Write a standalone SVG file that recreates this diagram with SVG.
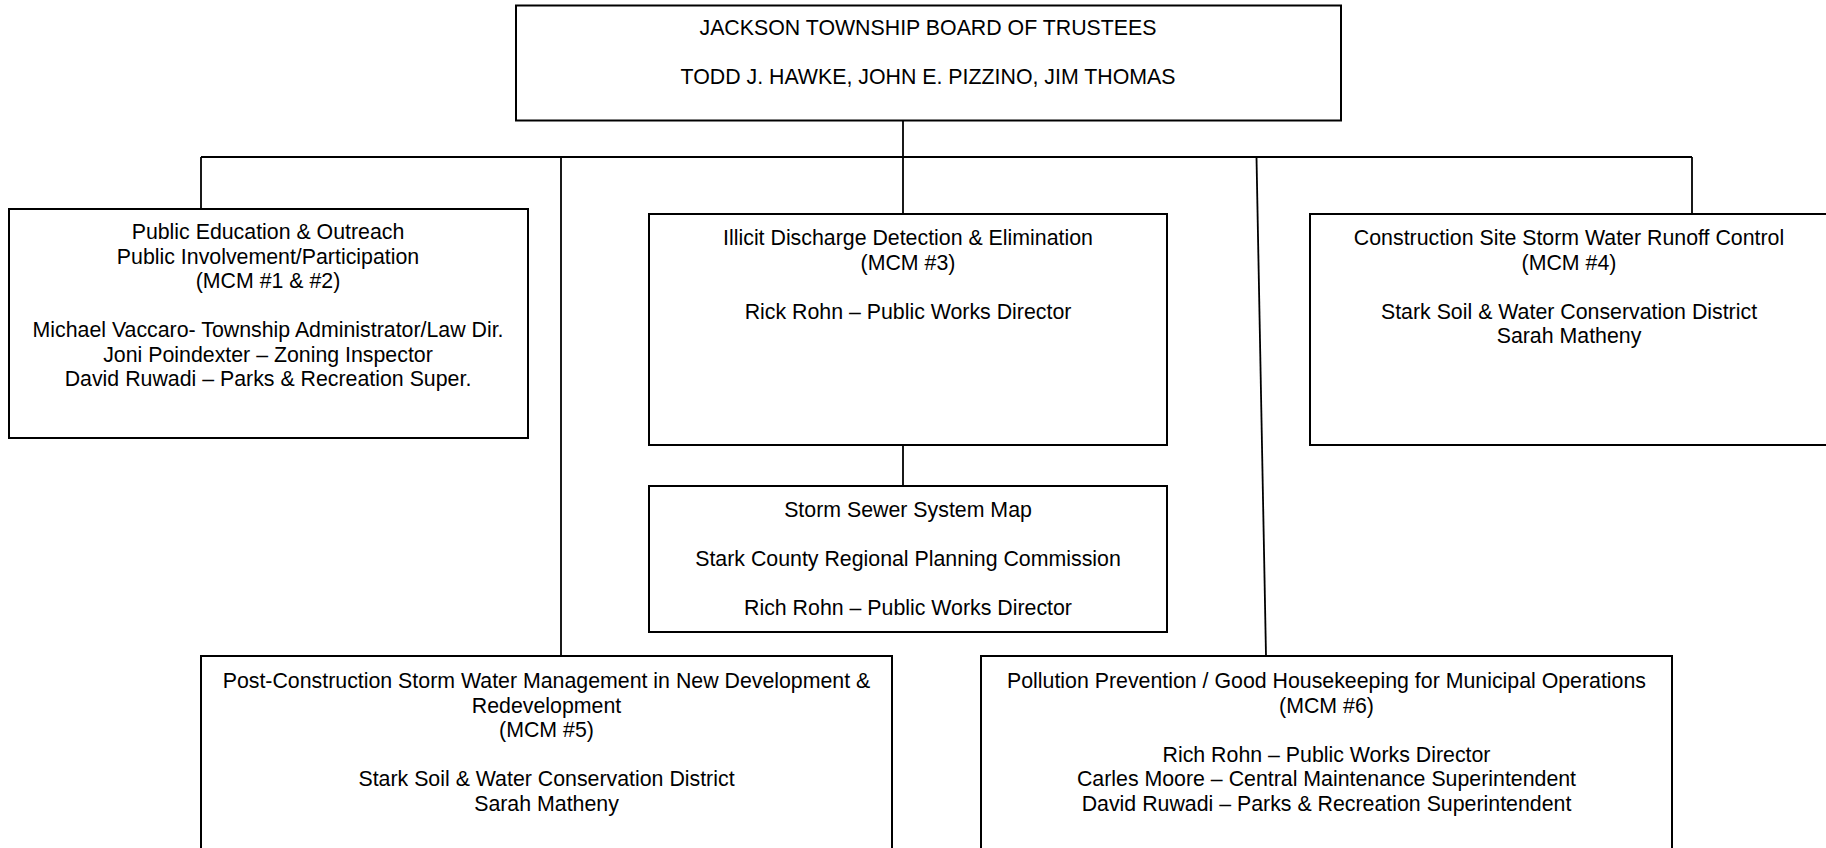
<svg xmlns="http://www.w3.org/2000/svg" width="1826" height="848" viewBox="0 0 1826 848">
<style>
.box{fill:#fff;stroke:#000;stroke-width:2}
.con{fill:none;stroke:#000;stroke-width:1.8}
text{font-family:"Liberation Sans",Arial,sans-serif;font-size:21.33px;fill:#000;text-anchor:middle}
</style>
<rect x="0" y="0" width="1826" height="848" fill="#fff"/>
<g id="connectors">
<path class="con" d="M903 121V157"/>
<path class="con" d="M201 157H1692"/>
<path class="con" d="M201 157V209"/>
<path class="con" d="M561 157V656"/>
<path class="con" d="M903 157V214"/>
<path class="con" d="M1256.5 157L1266 656"/>
<path class="con" d="M1692 157V214"/>
<path class="con" d="M903 445V486"/>
</g>
<g id="board">
<rect class="box" x="516" y="5.5" width="825" height="115"/>
<text x="928" y="35">JACKSON TOWNSHIP BOARD OF TRUSTEES</text>
<text x="928" y="84">TODD J. HAWKE, JOHN E. PIZZINO, JIM THOMAS</text>
</g>
<g id="mcm12">
<rect class="box" x="9" y="209" width="519" height="229"/>
<text x="268" y="239">Public Education &amp; Outreach</text>
<text x="268" y="263.5">Public Involvement/Participation</text>
<text x="268" y="288">(MCM #1 &amp; #2)</text>
<text x="268" y="337">Michael Vaccaro- Township Administrator/Law Dir.</text>
<text x="268" y="361.5">Joni Poindexter – Zoning Inspector</text>
<text x="268" y="386">David Ruwadi – Parks &amp; Recreation Super.</text>
</g>
<g id="mcm3">
<rect class="box" x="649" y="214" width="518" height="231"/>
<text x="908" y="245">Illicit Discharge Detection &amp; Elimination</text>
<text x="908" y="269.5">(MCM #3)</text>
<text x="908" y="318.5">Rick Rohn – Public Works Director</text>
</g>
<g id="map">
<rect class="box" x="649" y="486" width="518" height="146"/>
<text x="908" y="517">Storm Sewer System Map</text>
<text x="908" y="566">Stark County Regional Planning Commission</text>
<text x="908" y="615">Rich Rohn – Public Works Director</text>
</g>
<g id="mcm4">
<rect class="box" x="1310" y="214" width="520" height="231"/>
<text x="1569" y="245">Construction Site Storm Water Runoff Control</text>
<text x="1569" y="269.5">(MCM #4)</text>
<text x="1569" y="318.5">Stark Soil &amp; Water Conservation District</text>
<text x="1569" y="343">Sarah Matheny</text>
</g>
<g id="mcm5">
<rect class="box" x="201" y="656" width="691" height="200"/>
<text x="546.5" y="688">Post-Construction Storm Water Management in New Development &amp;</text>
<text x="546.5" y="712.5">Redevelopment</text>
<text x="546.5" y="737">(MCM #5)</text>
<text x="546.5" y="786">Stark Soil &amp; Water Conservation District</text>
<text x="546.5" y="810.5">Sarah Matheny</text>
</g>
<g id="mcm6">
<rect class="box" x="981" y="656" width="691" height="200"/>
<text x="1326.5" y="688">Pollution Prevention / Good Housekeeping for Municipal Operations</text>
<text x="1326.5" y="712.5">(MCM #6)</text>
<text x="1326.5" y="761.5">Rich Rohn – Public Works Director</text>
<text x="1326.5" y="786">Carles Moore – Central Maintenance Superintendent</text>
<text x="1326.5" y="810.5">David Ruwadi – Parks &amp; Recreation Superintendent</text>
</g>
</svg>
